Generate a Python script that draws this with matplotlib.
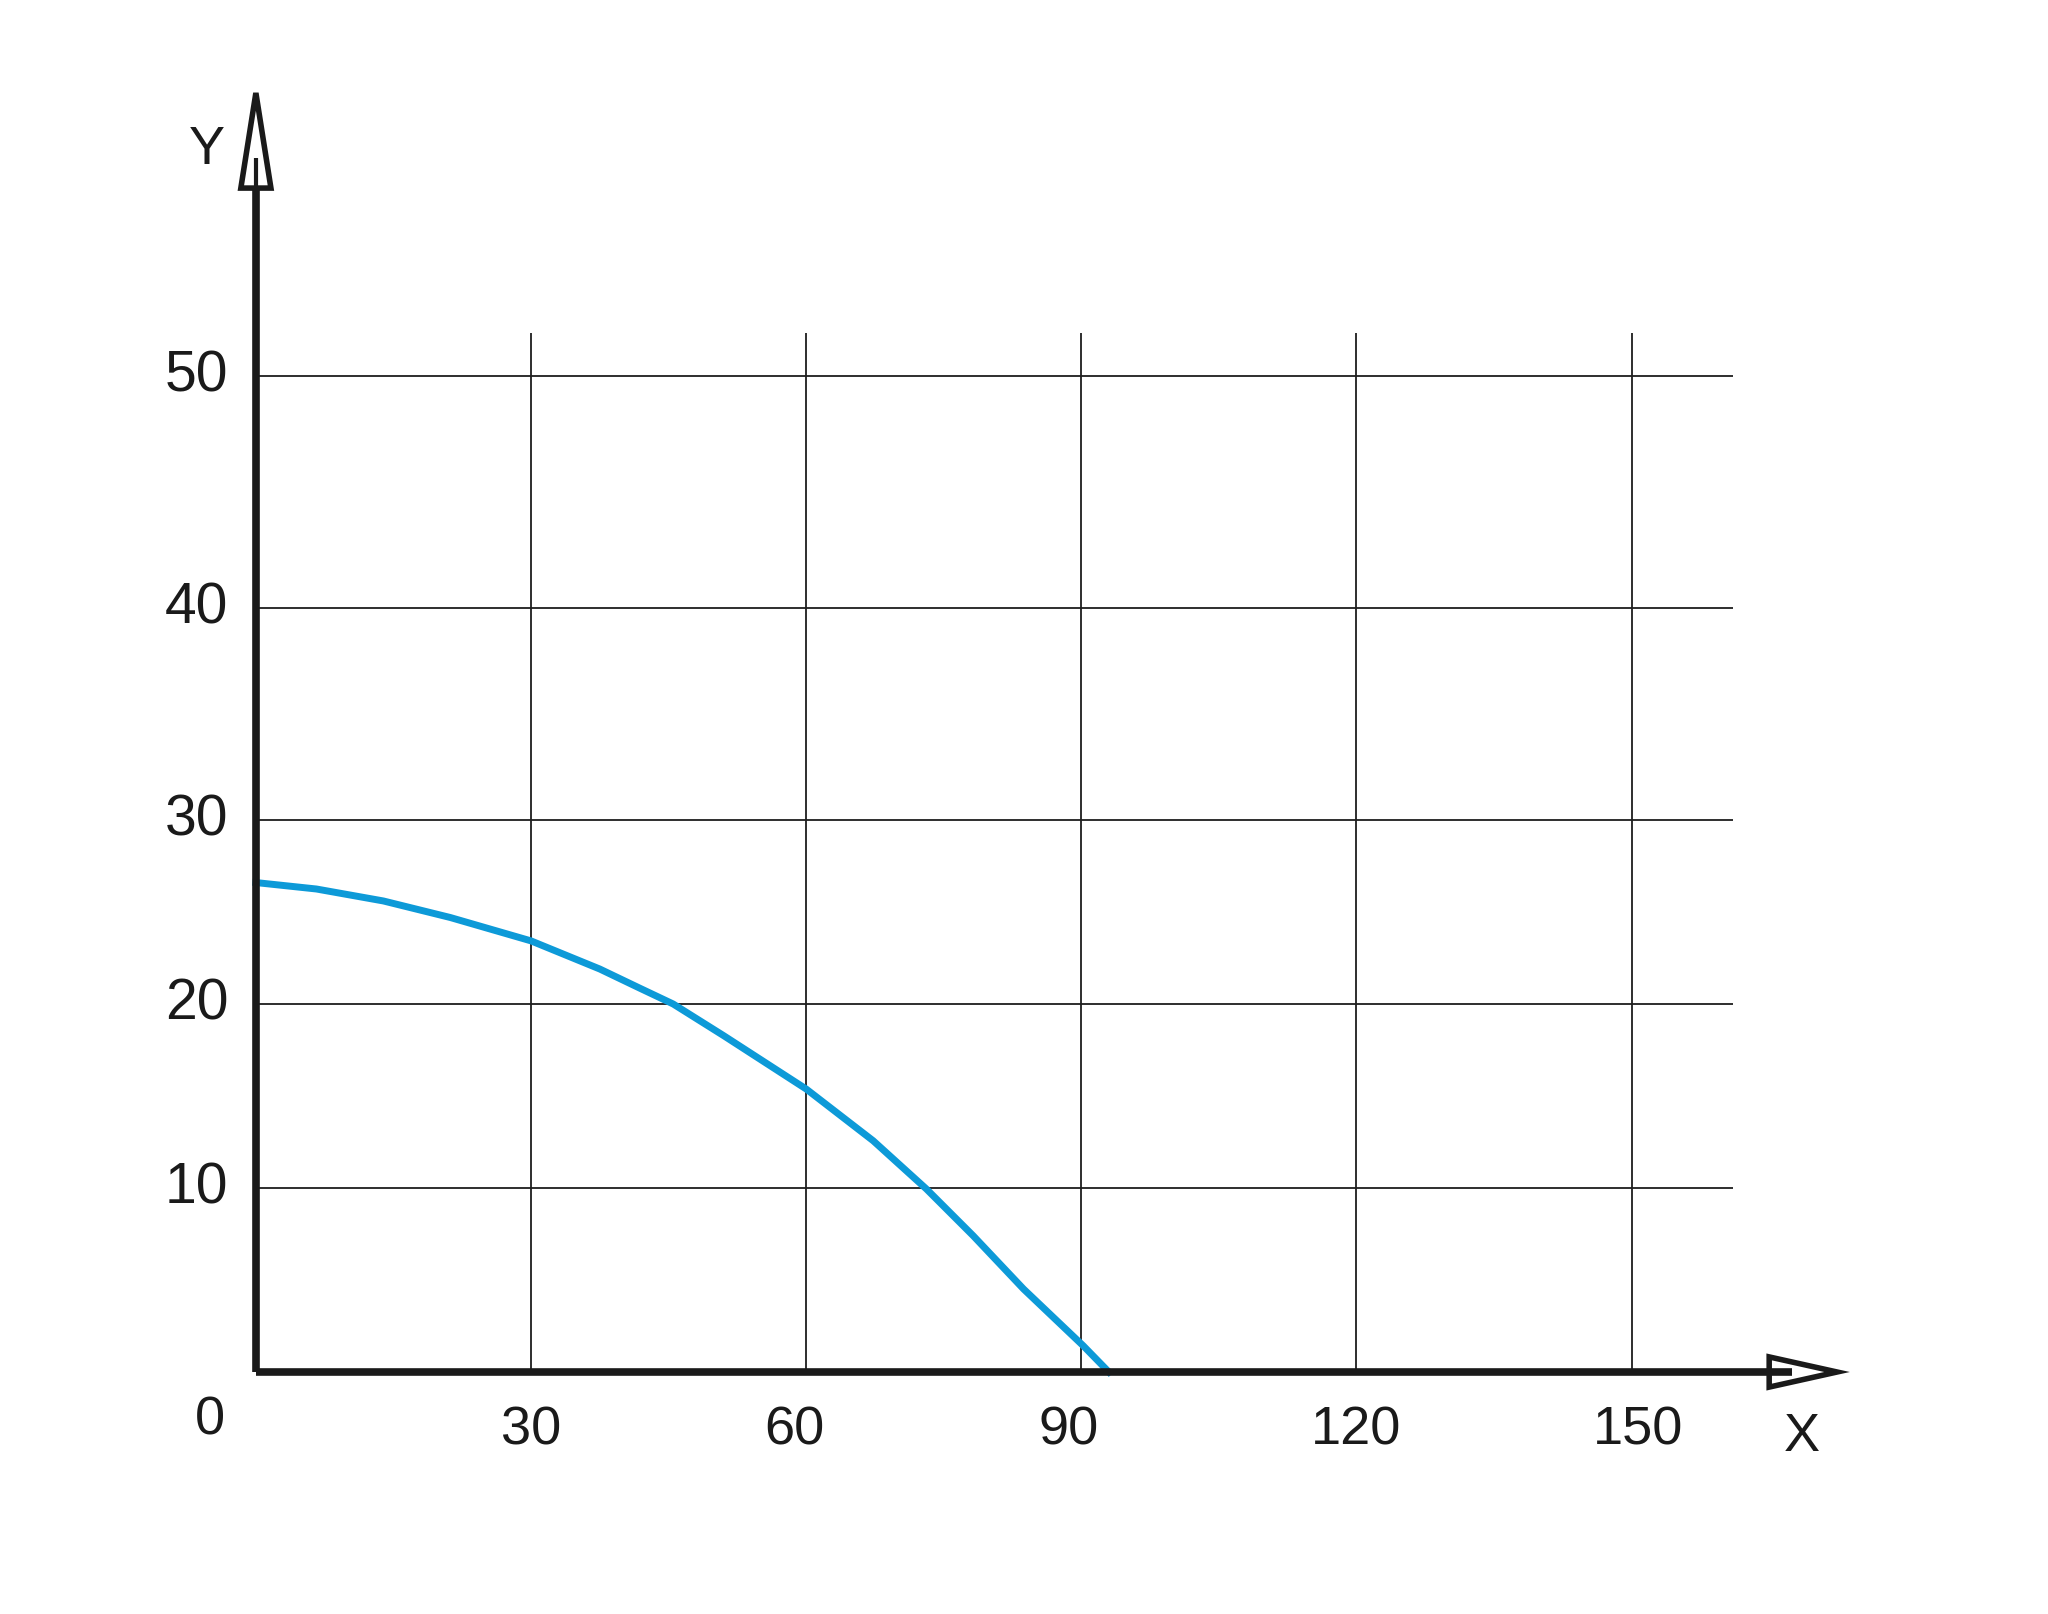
import numpy as np
import matplotlib
matplotlib.use("Agg")
import matplotlib.pyplot as plt

plt.rcParams['font.family'] = ['Liberation Sans', 'DejaVu Sans']

# curve
curve_x = [0, 6.6, 13.9, 21.2, 30.0, 37.5, 41.9, 45.5, 51.0, 60.0,
           67.3, 73.1, 78.2, 83.7, 90.2, 93.0]
curve_y = [26.6, 26.25, 25.6, 24.7, 23.43, 21.9, 20.85, 20.0, 18.28, 15.38,
           12.57, 9.95, 7.41, 4.51, 1.43, 0.0]

x_ticks = [30, 60, 90, 120, 150]
y_ticks = [10, 20, 30, 40, 50]

# the drawing's y axis is not evenly spaced above 30
y_knots = [-20, 0, 10, 20, 30, 40, 50, 100]
y_pos = [-368, 0, 184, 368, 552, 764, 996, 2156]


def fwd(v):
    return np.interp(v, y_knots, y_pos)


def inv(p):
    return np.interp(p, y_pos, y_knots)


fig = plt.figure(figsize=(20.48, 16.15), dpi=100)
ax = fig.add_axes([0, 0, 1, 1])
ax.set_yscale('function', functions=(fwd, inv))
ax.set_xlim(-27.9, 195.4)
ax.set_ylim(inv(-242), inv(1373))
ax.set_axis_off()

ink = '#1a1a1a'

# grid
ax.hlines(y_ticks, 0, 161.1, color='#1e1e1e', lw=1.3, zorder=1)
ax.vlines(x_ticks, 0, 51.85, color='#1e1e1e', lw=1.3, zorder=1)

# curve
ax.plot(curve_x, curve_y, color='#0d9ad8', lw=5, solid_joinstyle='round', zorder=2)

# axes with open arrow heads
ax.fill([165.0, 172.4, 165.0], [-0.82, 0, 0.82], facecolor='white',
        edgecolor=ink, lw=4, joinstyle='miter', zorder=3)
ax.fill([-1.64, 0, 1.64], [58.1, 62.2, 58.1], facecolor='white',
        edgecolor=ink, lw=4, joinstyle='miter', zorder=3)
ax.plot([0, 167.5], [0, 0], color=ink, lw=5.5, solid_capstyle='butt', zorder=4)
ax.plot([0, 0], [0, 58.1], color=ink, lw=5.5, solid_capstyle='butt', zorder=4)
ax.plot([0, 0], [58.1, 59.4], color=ink, lw=3, solid_capstyle='butt', zorder=4)

# labels (hand-drawn original has them slightly off the grid)
x_label_dx = [0, -1.3, -1.4, 0, 0.7]
for t, dx in zip(x_ticks, x_label_dx):
    ax.text(t + dx, -3.1, str(t), ha='center', va='center', fontsize=39, color=ink)
for t in y_ticks:
    ax.text(-3.0, t, str(t), ha='right', va='center', fontsize=41, color=ink)
ax.text(-5.0, -2.6, '0', ha='center', va='center', fontsize=39, color=ink)
ax.text(168.6, -3.5, 'X', ha='center', va='center', fontsize=39, color=ink)
ax.text(-5.4, 59.8, 'Y', ha='center', va='center', fontsize=39, color=ink)

fig.savefig('out.png', dpi=100, facecolor='white')
